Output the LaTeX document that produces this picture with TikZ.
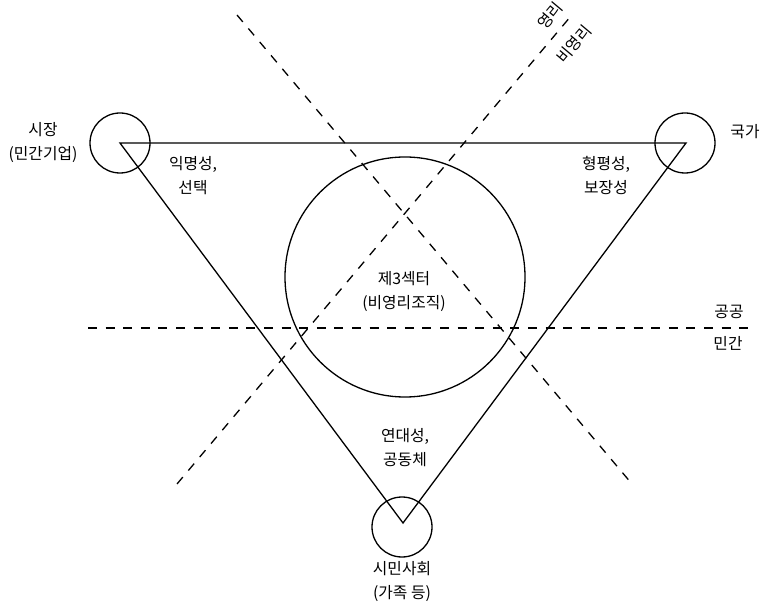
\documentclass[tikz,border=0pt]{standalone}
\usepackage{fontspec}
\setmainfont{Noto Sans CJK KR}
\begin{document}
\begin{tikzpicture}[x=1pt,y=-1pt,
  solidline/.style={line width=1.3pt},
  dashline/.style={line width=1.3pt,dash pattern=on 9pt off 8.6pt},
  lbl/.style={font=\fontsize{15.8}{24}\selectfont,align=center,inner sep=0pt}]
\useasboundingbox (0,0) rectangle (766,609);
% vertices
\coordinate (A) at (120,143);
\coordinate (B) at (686,143);
\coordinate (C) at (403,523);
% circles
\node[solidline,draw,circle,minimum size=60pt,inner sep=0pt] (cA) at (120,143) {};
\node[solidline,draw,circle,minimum size=60pt,inner sep=0pt] (cB) at (685,143) {};
\node[solidline,draw,circle,minimum size=60pt,inner sep=0pt] (cC) at (402,527) {};
\node[solidline,draw,circle,minimum size=240pt,inner sep=0pt] (big) at (405,277) {};
% triangle
\draw[solidline,line join=miter] (A) -- (B) -- (C) -- cycle;
% dashed lines
\coordinate (h1) at (88,328);
\coordinate (h2) at (752,328);
\coordinate (d1a) at (237,15);
\coordinate (d1b) at (632,484);
\coordinate (d2a) at (177,484);
\coordinate (d2b) at (571,16);
\draw[dashline] (h1) -- (h2);
\draw[dashline] (d1a) -- (d1b);
\draw[dashline] (d2a) -- (d2b);
% labels
\node[lbl] (market) at (43,143) {시장\\(민간기업)};
\node[lbl] (state) at (745,132) {국가};
\node[lbl] (civil) at (402,582) {시민사회\\(가족 등)};
\node[lbl] (anon) at (193,176) {익명성,\\선택};
\node[lbl] (equity) at (606,176) {형평성,\\보장성};
\node[lbl] (third) at (404,292) {제3섹터\\(비영리조직)};
\node[lbl] (solid) at (405,448) {연대성,\\공동체};
\node[lbl] (public) at (729,312) {공공};
\node[lbl] (private) at (728,343) {민간};
\node[lbl,rotate=50] (profit) at (550,16) {영리};
\node[lbl,rotate=50] (nonprofit) at (574,44) {비영리};
\end{tikzpicture}
\end{document}
